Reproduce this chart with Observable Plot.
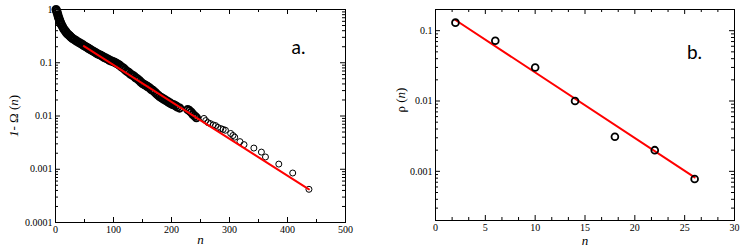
<!DOCTYPE html>
<html><head><meta charset="utf-8">
<script src="https://cdn.jsdelivr.net/npm/d3@7"></script>
<script src="https://cdn.jsdelivr.net/npm/@observablehq/plot@0.6"></script>
<style>
html,body{margin:0;padding:0;background:#fff;}
#wrap{display:flex;width:747px;height:249px;overflow:hidden;}
#wrap svg{display:block;flex:none;}
</style></head><body><div id="wrap"></div>
<script>
// Panel a: dense part of 1 - Omega(n)
const bandN = [1,2,3,4,5,6,7,8,9,10,12,14,16,18,20,22,24,26,28,30,33,36,39,42,45,48,51,54,57,60,63,66,69,72,75,78,81,84,87,90,93,96,99,102,105,108,111,114,117,120,123,126,129,132,135,138,141,144,147,150,153,156,159,162,165,168,171,174,177,180,183,186,189,192,195,198,201,204,207,210,214,228,231,234,237,240,243];
const bandV = [1.0,0.933,0.871,0.794,0.724,0.676,0.631,0.589,0.550,0.525,0.479,0.437,0.407,0.380,0.355,0.339,0.324,0.309,0.295,0.282,0.269,0.257,0.245,0.234,0.224,0.214,0.204,0.195,0.186,0.178,0.170,0.162,0.155,0.148,0.143,0.138,0.132,0.126,0.122,0.117,0.112,0.108,0.105,0.102,0.0977,0.0933,0.0891,0.0832,0.0794,0.0741,0.0692,0.0661,0.0617,0.0589,0.0562,0.0525,0.0501,0.0468,0.0437,0.0407,0.0389,0.0372,0.0355,0.0339,0.0316,0.0302,0.0282,0.0263,0.0245,0.0229,0.0219,0.0209,0.0200,0.0191,0.0182,0.0174,0.0166,0.0162,0.0155,0.0148,0.0141,0.0132,0.0126,0.0117,0.0107,0.0100,0.0093];
// Panel a: sparse tail
const tailN = [256,259,263,267,272,276,280,285,289,293,302,306,309,318,325,342,355,362,385,409,437];
const tailV = [0.0090,0.0082,0.0075,0.0072,0.0068,0.0066,0.0061,0.0058,0.0056,0.0054,0.0047,0.0043,0.0040,0.0033,0.0029,0.0025,0.0021,0.0017,0.00125,0.00085,0.00042];
// Panel a: fit
const fitAN = [49, 437];
const fitAV = [0.205, 0.00042];
// Panel b
const bN = [2, 6, 10, 14, 18, 22, 26];
const bRho = [0.13, 0.072, 0.030, 0.010, 0.0031, 0.0020, 0.00078];
const fitBN = [2, 26];
const fitBV = [0.142, 0.00082];
// Ticks
const xTicksA = [0, 100, 200, 300, 400, 500];
const xMinorA = [50, 150, 250, 350, 450];
const yTicksA = [1, 0.1, 0.01, 0.001, 0.0001];
const yLabelsA = ["1", "0.1", "0.01", "0.001", "0.0001"];
const xTicksB = [0, 5, 10, 15, 20, 25, 30];
const xMinorB = [5/3, 10/3, 20/3, 25/3, 35/3, 40/3, 50/3, 55/3, 65/3, 70/3, 80/3, 85/3];
const yTicksB = [0.1, 0.01, 0.001];
const yLabelsB = ["0.1", "0.01", "0.001"];

function logMinors(lo, hi) {
  const out = [];
  for (let e = -6; e <= 1; e++) for (let k = 2; k <= 9; k++) {
    const v = k * Math.pow(10, e);
    if (v >= lo * 0.999 && v <= hi * 1.001) out.push(v);
  }
  return out;
}

const serif = "'Liberation Serif', 'Times New Roman', serif";

function panel(o) {
  const H = 249;
  const ph = H - o.marginTop - o.marginBottom;
  const pw = o.width - o.marginLeft - o.marginRight;
  const L = 5, l = 3;
  const yMinor = logMinors(o.yDomain[0], o.yDomain[1]);
  return Plot.plot({
    width: o.width, height: H,
    marginLeft: o.marginLeft, marginRight: o.marginRight,
    marginTop: o.marginTop, marginBottom: o.marginBottom,
    x: {domain: o.xDomain},
    y: {type: "log", domain: o.yDomain},
    style: {fontFamily: serif, fontSize: "10px", background: "white", color: "black", overflow: "visible"},
    marks: [
      Plot.tickX(o.xMaj, {x: d => d, insetTop: ph - L, stroke: "black"}),
      Plot.tickX(o.xMaj, {x: d => d, insetBottom: ph - L, stroke: "black"}),
      Plot.tickX(o.xMin, {x: d => d, insetTop: ph - l, stroke: "black"}),
      Plot.tickX(o.xMin, {x: d => d, insetBottom: ph - l, stroke: "black"}),
      Plot.tickY(o.yMaj, {y: d => d, insetRight: pw - L, stroke: "black"}),
      Plot.tickY(o.yMaj, {y: d => d, insetLeft: pw - L, stroke: "black"}),
      Plot.tickY(yMinor, {y: d => d, insetRight: pw - l, stroke: "black"}),
      Plot.tickY(yMinor, {y: d => d, insetLeft: pw - l, stroke: "black"}),
      Plot.axisX({ticks: o.xMaj, tickSize: 0, tickPadding: 3, label: null, fontSize: 10}),
      Plot.axisY({ticks: o.yMaj, tickSize: 0, tickPadding: 3, label: null, fontSize: 10,
        tickFormat: d => o.yLabels[o.yMaj.indexOf(d)]}),
      ...o.marks,
      Plot.frame({stroke: "black", strokeWidth: 1}),
      Plot.text(["n"], {text: d => d, frameAnchor: "bottom", dy: o.nDy, fontStyle: "italic", fontSize: 13, lineAnchor: "middle"}),
      Plot.text([o.ylabel], {text: d => d, frameAnchor: "left", dx: o.ylabelDx, dy: o.ylabelDy, rotate: -90, fontSize: 13, lineAnchor: "middle", textAnchor: "middle"}),
      Plot.text([o.tag], {text: d => d, frameAnchor: "top-right", dx: o.tagDx, dy: o.tagDy, textAnchor: "middle", lineAnchor: "middle", fontFamily: "Lato, 'Open Sans', sans-serif", fontSize: 19})
    ]
  });
}

const bandData = bandN.map((n, i) => ({n, v: bandV[i]}));
const tailData = tailN.map((n, i) => ({n, v: tailV[i]}));
const fitAData = fitAN.map((n, i) => ({n, v: fitAV[i]}));
const bData = bN.map((n, i) => ({n, v: bRho[i]}));
const fitBData = fitBN.map((n, i) => ({n, v: fitBV[i]}));

const a = panel({
  width: 380, marginLeft: 55, marginRight: 35, marginTop: 9, marginBottom: 27,
  xDomain: [0, 500], yDomain: [0.0001, 1],
  xMaj: xTicksA, xMin: xMinorA, yMaj: yTicksA, yLabels: yLabelsA,
  ylabel: "1- Ω (n)", ylabelDx: -42, ylabelDy: 0, nDy: 17,
  tag: "a.", tagDx: -47, tagDy: 38,
  marks: [
    Plot.dot(bandData, {x: "n", y: "v", r: 3.6, stroke: "black", strokeWidth: 2, fill: "none"}),
    Plot.dot(tailData, {x: "n", y: "v", r: 3, stroke: "black", strokeWidth: 1, fill: "none"}),
    Plot.line(fitAData, {x: "n", y: "v", stroke: "#ff0000", strokeWidth: 2})
  ]
});

const b = panel({
  width: 367, marginLeft: 55, marginRight: 13, marginTop: 9, marginBottom: 29,
  xDomain: [0, 30], yDomain: [0.0002, 0.2],
  xMaj: xTicksB, xMin: xMinorB, yMaj: yTicksB, yLabels: yLabelsB,
  ylabel: "ρ (n)", ylabelDx: -35, ylabelDy: -15, nDy: 20,
  tag: "b.", tagDx: -40, tagDy: 43,
  marks: [
    Plot.line(fitBData, {x: "n", y: "v", stroke: "#ff0000", strokeWidth: 2}),
    Plot.dot(bData, {x: "n", y: "v", r: 3.4, stroke: "black", strokeWidth: 1.8, fill: "none"})
  ]
});

// mixed italic styling of y labels
function styleLabel(svg, label, parts) {
  d3.select(svg).selectAll("text").each(function() {
    if (this.textContent === label && this.querySelector("tspan") === null) {
      const t = d3.select(this);
      t.text(null);
      for (const [s, it] of parts) {
        t.append("tspan").attr("font-style", it ? "italic" : "normal").text(s);
      }
    }
  });
}
styleLabel(a, "1- Ω (n)", [["1", true], ["- Ω (", false], ["n", true], [")", false]]);
styleLabel(b, "ρ (n)", [["ρ (", false], ["n", true], [")", false]]);

document.getElementById("wrap").append(a, b);
</script>
</body></html>
